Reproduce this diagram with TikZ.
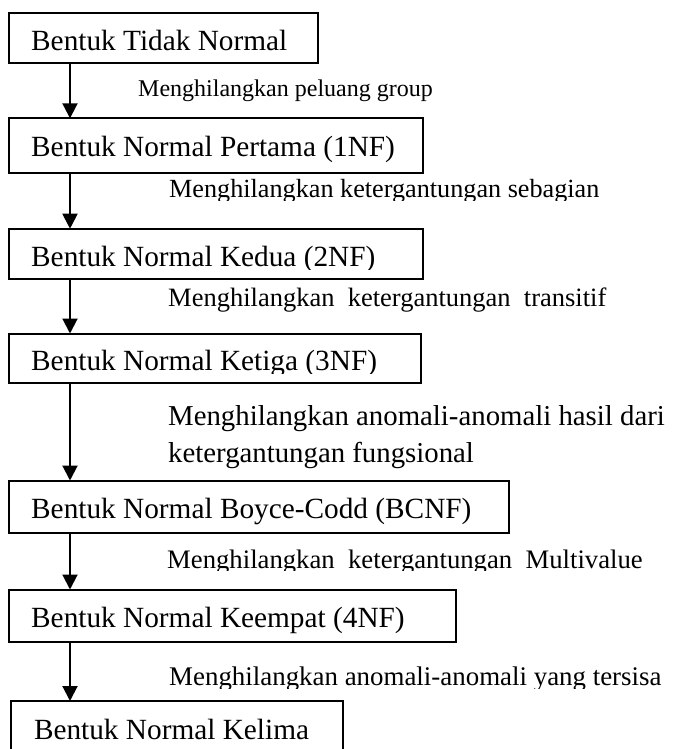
\documentclass[tikz,border=0pt]{standalone}
\usepackage{fontspec}
\setmainfont{Liberation Serif}
\usetikzlibrary{arrows.meta}
\begin{document}
\begin{tikzpicture}[x=1pt,y=-1pt,
  frame/.style={draw=black, line width=2pt, rectangle, inner sep=0pt, outer sep=0pt, anchor=north west},
  boxtext/.style={anchor=base west, inner sep=0pt, font=\fontsize{29.3}{34}\selectfont},
  note/.style={anchor=base west, inner sep=0pt, font=\fontsize{#1}{32}\selectfont},
  note/.default=26.5,
  flow/.style={line width=2pt, -{Triangle[width=15pt,length=15pt]}}]
\useasboundingbox (0,0) rectangle (673,749);
\coordinate (ax) at (70,0);

% the seven stages
\node[frame, minimum width=309.8, minimum height=50.0] (b1) at (8.5,12.7) {};
\node[frame, minimum width=414.8, minimum height=54.4] (b2) at (8.5,118.3) {};
\node[frame, minimum width=414.8, minimum height=50.0] (b3) at (8.5,228.7) {};
\node[frame, minimum width=412.5, minimum height=49.5] (b4) at (8.5,333.5) {};
\node[frame, minimum width=500.2, minimum height=52.0] (b5) at (8.5,480.5) {};
\node[frame, minimum width=447.5, minimum height=52.0] (b6) at (8.5,589.5) {};
\node[frame, minimum width=332.5, minimum height=60.0] (b7) at (10.8,701) {};

% stage names
\node[boxtext] (t1) at ([xshift=22.5pt,yshift=-37.5pt]b1.north west) {Bentuk Tidak Normal};
\node[boxtext] (t2) at ([xshift=22.5pt,yshift=-38pt]b2.north west) {Bentuk Normal Pertama (1NF)};
\begin{scope}
  \clip (0,230) rectangle (673,269.5);
  \node[boxtext] (t3) at ([xshift=22.5pt,yshift=-37.5pt]b3.north west) {Bentuk Normal Kedua (2NF)};
\end{scope}
\begin{scope}
  \clip (0,335) rectangle (673,373.5);
  \node[boxtext] (t4) at ([xshift=22.5pt,yshift=-37pt]b4.north west) {Bentuk Normal Ketiga (3NF)};
\end{scope}
\node[boxtext] (t5) at ([xshift=22.5pt,yshift=-37.5pt]b5.north west) {Bentuk Normal Boyce-Codd (BCNF)};
\node[boxtext] (t6) at ([xshift=22.5pt,yshift=-37.5pt]b6.north west) {Bentuk Normal Keempat (4NF)};
\node[boxtext] (t7) at ([xshift=23pt,yshift=-38pt]b7.north west) {Bentuk Normal Kelima};

% transitions
\draw[flow] (b1.south -| ax) -- (b2.north -| ax);
\draw[flow] (b2.south -| ax) -- (b3.north -| ax);
\draw[flow] (b3.south -| ax) -- (b4.north -| ax);
\draw[flow] (b4.south -| ax) -- (b5.north -| ax);
\draw[flow] (b5.south -| ax) -- (b6.north -| ax);
\draw[flow] (b6.south -| ax) -- (b7.north -| ax);

% transition notes
\node[note=24] (l1) at (138,97) {Menghilangkan peluang group};
\begin{scope}
  \clip (0,175) rectangle (673,200);
  \node[note=26.2] (l2) at (169,197) {Menghilangkan ketergantungan sebagian};
\end{scope}
\node[note=26.5] (l3) at (168,306.5) {Menghilangkan\ \ ketergantungan\ \ transitif};
\node[note=28.8] (l4a) at (168,425) {Menghilangkan anomali-anomali hasil dari};
\node[note=28.8] (l4b) at (168,462) {ketergantungan fungsional};
\begin{scope}
  \clip (0,535) rectangle (673,570.5);
  \node[note=26.7] (l5) at (167,568) {Menghilangkan\ \ ketergantungan\ \ Multivalue};
\end{scope}
\begin{scope}
  \clip (0,645) rectangle (673,688);
  \node[note=26.9] (l6) at (169,685) {Menghilangkan anomali-anomali yang tersisa};
\end{scope}
\end{tikzpicture}
\end{document}
